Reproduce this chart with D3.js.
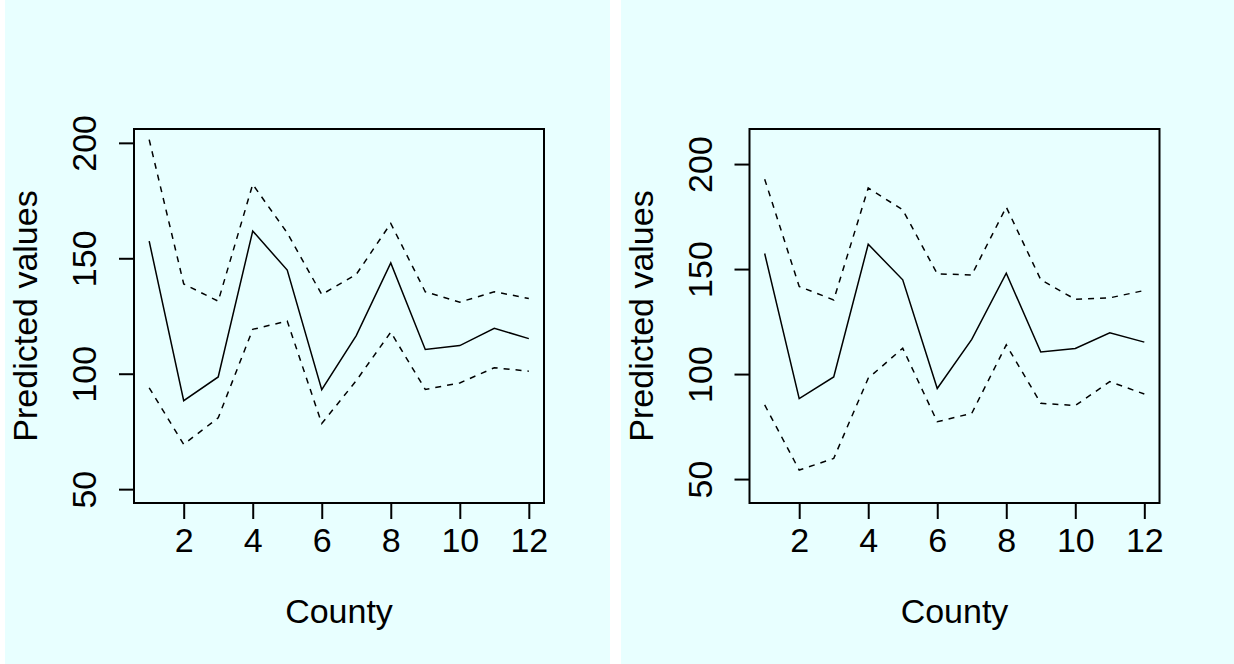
<!DOCTYPE html>
<html><head><meta charset="utf-8">
<script src="https://cdn.jsdelivr.net/npm/d3@7"></script>
<style>
body{margin:0;background:#ffffff;}
svg{display:block;}
text{font-family:"Liberation Sans", Arial, Helvetica, sans-serif;fill:#000;}
</style>
</head><body>
<svg id="chart" width="1234" height="664"></svg>
<script>
// ---- data ----
const counties = [1,2,3,4,5,6,7,8,9,10,11,12];
const fitted   = [157.4, 88.3, 98.6, 161.8, 144.9, 93.1, 116.5, 148.0, 110.5, 112.2, 119.7, 115.2];
const upperA   = [201.4, 138.9, 131.4, 182.0, 161.0, 134.3, 143.0, 165.1, 135.5, 131.0, 135.5, 132.6];
const lowerA   = [93.9, 69.4, 80.9, 119.2, 122.8, 78.4, 97.0, 118.0, 93.2, 96.0, 102.6, 101.1];
const upperB   = [192.8, 141.7, 135.3, 188.6, 178.2, 147.7, 147.2, 179.5, 144.9, 135.6, 136.3, 139.8];
const lowerB   = [85.3, 54.3, 59.8, 98.0, 112.3, 77.3, 81.3, 113.9, 86.1, 85.0, 96.4, 90.5];
const xTicks   = [2,4,6,8,10,12];
const yTicks   = [50,100,150,200];
const ylimA    = [50, 200];
const ylimB    = [45.2, 210.1];
const xLabel   = "County";
const yLabel   = "Predicted values";

// ---- layout ----
const bg = "#e8ffff";
const FS = 34;
const boxTop = 129, boxBottom = 503;
const panels = [
  {bgX:5,   bgW:605, boxL:134,   boxR:544,   ylim:ylimA, up:upperA, lo:lowerA},
  {bgX:621, bgW:613, boxL:749.5, boxR:1159.5, ylim:ylimB, up:upperB, lo:lowerB}
];
const svg = d3.select("#chart");
const expand = (lim) => { const d = (lim[1]-lim[0])*0.04; return [lim[0]-d, lim[1]+d]; };

panels.forEach(p => {
  const g = svg.append("g");
  g.append("rect").attr("x", p.bgX).attr("y", 0).attr("width", p.bgW).attr("height", 664).attr("fill", bg);

  const x = d3.scaleLinear().domain(expand(d3.extent(counties))).range([p.boxL, p.boxR]);
  const y = d3.scaleLinear().domain(expand(p.ylim)).range([boxBottom, boxTop]);

  const line = d3.line().x((d,i) => x(counties[i])).y(d => y(d));

  // confidence bands (dashed)
  [p.up, p.lo].forEach(arr => {
    g.append("path").datum(arr).attr("d", line)
      .attr("fill","none").attr("stroke","#000").attr("stroke-width",1.5)
      .attr("stroke-dasharray","6,6");
  });
  // fitted line
  g.append("path").datum(fitted).attr("d", line)
    .attr("fill","none").attr("stroke","#000").attr("stroke-width",1.5);

  // box
  g.append("rect").attr("x", p.boxL).attr("y", boxTop)
    .attr("width", p.boxR - p.boxL).attr("height", boxBottom - boxTop)
    .attr("fill","none").attr("stroke","#000").attr("stroke-width",2);

  // x axis
  const xa = g.append("g").attr("transform", `translate(0,${boxBottom})`)
    .call(d3.axisBottom(x).tickValues(xTicks).tickSize(16).tickSizeOuter(0).tickPadding(0).tickFormat(d3.format("d")));
  xa.select(".domain").remove();
  xa.selectAll(".tick line").attr("stroke","#000").attr("stroke-width",2);
  xa.selectAll(".tick text").attr("font-size", FS).attr("y", 49).attr("dy", null)
    .attr("font-family", '"Liberation Sans", Arial, sans-serif');

  // y axis
  const ya = g.append("g").attr("transform", `translate(${p.boxL},0)`)
    .call(d3.axisLeft(y).tickValues(yTicks).tickSize(15).tickSizeOuter(0).tickPadding(0).tickFormat(d3.format("d")));
  ya.select(".domain").remove();
  ya.selectAll(".tick line").attr("stroke","#000").attr("stroke-width",2);
  ya.selectAll(".tick text").attr("font-size", FS)
    .attr("x", null).attr("dy", null)
    .attr("text-anchor","middle")
    .attr("transform", "translate(-38,0) rotate(-90)")
    .attr("font-family", '"Liberation Sans", Arial, sans-serif');

  // axis titles
  g.append("text").attr("x", (p.boxL + p.boxR)/2).attr("y", 623)
    .attr("text-anchor","middle").attr("font-size", FS).text(xLabel);
  g.append("text").attr("transform", `translate(${p.boxL - 97},${(boxTop+boxBottom)/2}) rotate(-90)`)
    .attr("text-anchor","middle").attr("font-size", FS).text(yLabel);
});
</script>
</body></html>
